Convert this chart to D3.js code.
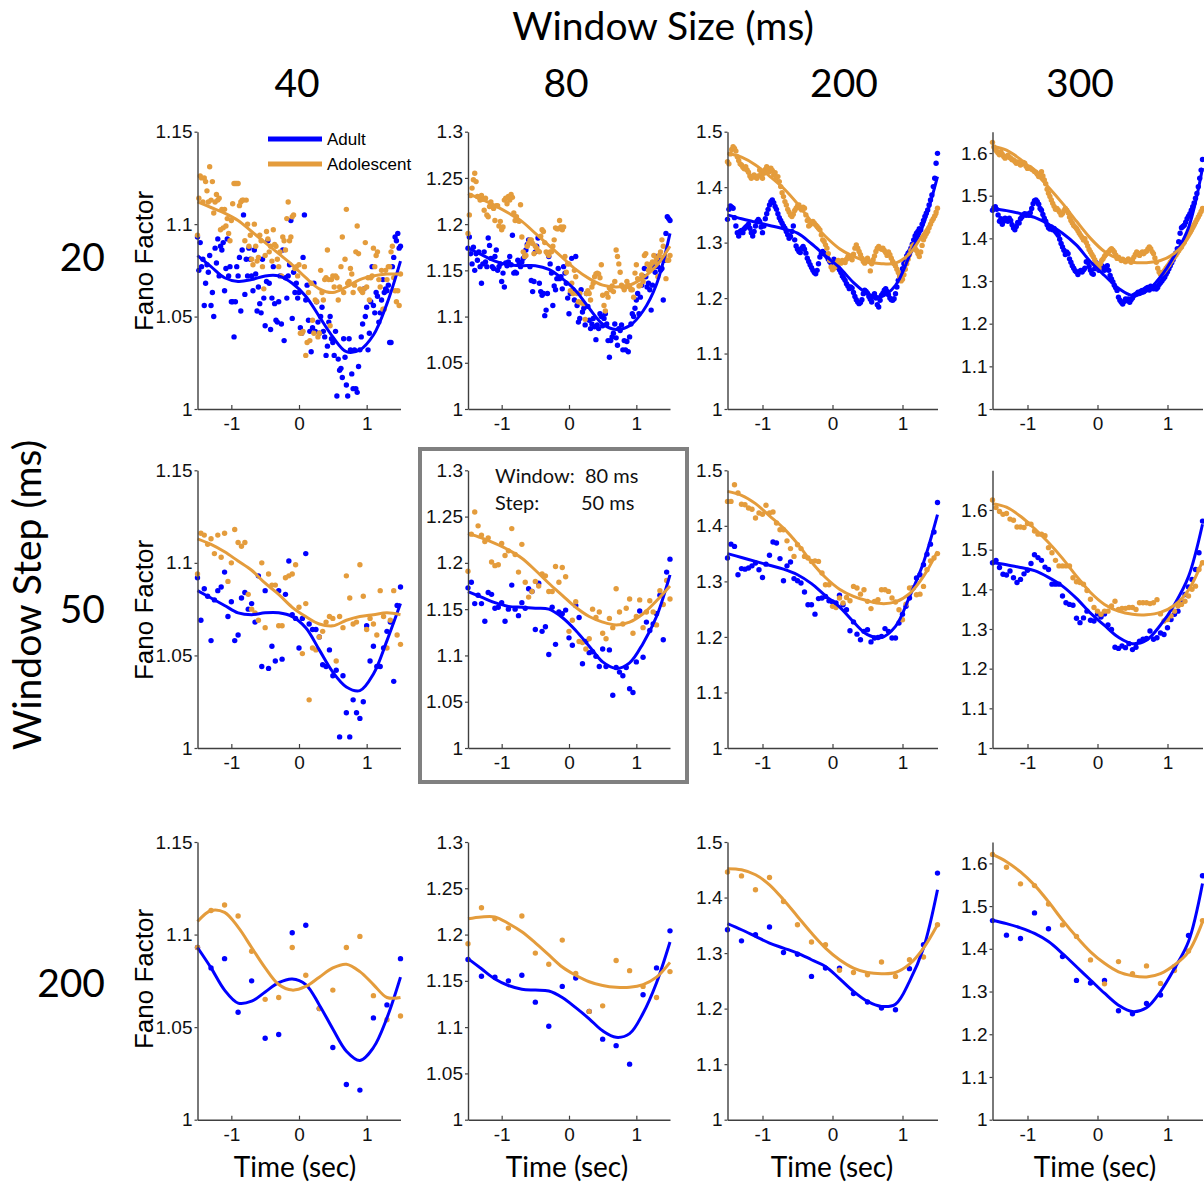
<!DOCTYPE html>
<html>
<head>
<meta charset="utf-8">
<script src="https://cdn.jsdelivr.net/npm/d3@7"></script>
<style>
  body { margin: 0; background: #fff; }
  svg { display: block; }
</style>
</head>
<body>
<svg id="chart" width="1204" height="1186"></svg>
<script>
const windowSizes = [40, 80, 200, 300];
const windowSteps = [20, 50, 200];
const fitTimes = [-1.5, -1.3, -1.1, -0.9, -0.7, -0.5, -0.3, -0.1, 0.1, 0.3, 0.5, 0.7, 0.9, 1.1, 1.3, 1.5];
const xTicks = [-1, 0, 1];
const yTicksByCol = [
  [1, 1.05, 1.1, 1.15],
  [1, 1.05, 1.1, 1.15, 1.2, 1.25, 1.3],
  [1, 1.1, 1.2, 1.3, 1.4, 1.5],
  [1, 1.1, 1.2, 1.3, 1.4, 1.5, 1.6]
];
const yMax = [
  [1.15, 1.3, 1.5, 1.65],
  [1.15, 1.3, 1.5, 1.7],
  [1.15, 1.3, 1.5, 1.65]
];

// ---- step 20 ms ----
const adult_s20_w40 = [1.093,1.075,1.090,1.077,1.081,1.056,1.068,1.078,1.074,1.083,
  1.056,1.063,1.050,1.087,1.079,1.092,1.072,1.088,1.086,1.090,
  1.064,1.076,1.092,1.072,1.077,1.058,1.058,1.039,1.058,1.077,
  1.072,1.082,1.053,1.086,1.105,1.062,1.081,1.072,1.087,1.081,
  1.072,1.064,1.086,1.073,1.053,1.066,1.057,1.052,1.081,1.060,
  1.045,1.069,1.091,1.068,1.043,1.060,1.077,1.057,1.048,1.047,
  1.058,1.072,1.046,1.086,1.037,1.071,1.060,1.072,1.078,1.102,
  1.049,1.074,1.063,1.068,1.060,1.063,1.044,1.041,1.082,1.105,
  1.059,1.067,1.048,1.042,1.031,1.044,1.068,1.042,1.058,1.047,
  1.041,1.050,1.055,1.042,1.039,1.029,1.034,1.047,1.050,1.038,
  1.036,1.029,1.042,1.007,1.027,1.021,1.022,1.017,1.038,1.028,
  1.013,1.007,1.038,1.032,1.019,1.011,1.032,1.011,1.009,1.023,
  1.032,1.039,1.046,1.065,1.050,1.055,1.032,1.041,1.058,1.077,
  1.056,1.052,1.063,1.061,1.047,1.052,1.059,1.070,1.063,1.065,
  1.064,1.067,1.036,1.036,1.077,1.082,1.093,1.091,1.095,1.087,1.088];
const adol_s20_w40 = [1.094,1.114,1.126,1.125,1.112,1.125,1.123,1.118,1.112,1.131,
  1.113,1.123,1.106,1.112,1.116,1.113,1.114,1.097,1.108,1.098,
  1.108,1.099,1.103,1.095,1.091,1.102,1.111,1.122,1.122,1.122,
  1.122,1.110,1.112,1.113,1.113,1.091,1.113,1.100,1.088,1.094,
  1.081,1.078,1.100,1.088,1.080,1.082,1.094,1.091,1.077,1.065,
  1.083,1.096,1.092,1.085,1.088,1.080,1.097,1.089,1.088,1.081,
  1.077,1.085,1.072,1.093,1.091,1.086,1.103,1.112,1.091,1.093,
  1.104,1.105,1.076,1.077,1.072,1.078,1.041,1.041,1.042,1.077,
  1.029,1.036,1.063,1.037,1.068,1.048,1.041,1.059,1.058,1.039,
  1.041,1.075,1.063,1.059,1.070,1.071,1.086,1.070,1.045,1.070,
  1.072,1.066,1.072,1.071,1.059,1.066,1.077,1.093,1.063,1.081,
  1.108,1.068,1.069,1.076,1.073,1.063,1.067,1.085,1.099,1.084,
  1.065,1.064,1.063,1.065,1.090,1.066,1.071,1.059,1.071,1.072,
  1.087,1.077,1.083,1.085,1.070,1.066,1.075,1.054,1.054,1.075,
  1.070,1.077,1.077,1.085,1.088,1.071,1.064,1.058,1.064,1.056,1.073];
const adult_s20_w80 = [1.174,1.186,1.168,1.157,1.175,1.150,1.168,1.161,1.170,1.154,
  1.136,1.157,1.170,1.159,1.154,1.185,1.177,1.163,1.154,1.152,
  1.165,1.172,1.150,1.154,1.157,1.138,1.147,1.132,1.158,1.155,
  1.159,1.165,1.156,1.188,1.147,1.148,1.147,1.161,1.157,1.154,
  1.159,1.163,1.165,1.172,1.178,1.183,1.154,1.139,1.127,1.138,
  1.170,1.176,1.185,1.136,1.127,1.123,1.125,1.101,1.107,1.125,
  1.165,1.157,1.147,1.112,1.133,1.129,1.141,1.152,1.141,1.143,
  1.130,1.154,1.147,1.136,1.120,1.103,1.125,1.163,1.129,1.118,
  1.165,1.112,1.094,1.098,1.129,1.105,1.109,1.091,1.125,1.111,
  1.096,1.087,1.092,1.098,1.089,1.075,1.091,1.087,1.103,1.100,
  1.090,1.098,1.103,1.092,1.074,1.056,1.074,1.078,1.082,1.092,
  1.077,1.069,1.087,1.085,1.091,1.064,1.074,1.064,1.073,1.062,
  1.078,1.092,1.103,1.100,1.109,1.118,1.125,1.103,1.121,1.134,
  1.143,1.152,1.143,1.132,1.136,1.129,1.107,1.134,1.154,1.148,
  1.165,1.154,1.161,1.150,1.152,1.118,1.161,1.190,1.208,1.206,1.204];
const adol_s20_w80 = [1.190,1.210,1.231,1.239,1.248,1.255,1.246,1.230,1.229,1.226,
  1.231,1.227,1.215,1.228,1.210,1.208,1.219,1.224,1.220,1.217,
  1.204,1.220,1.220,1.198,1.203,1.194,1.197,1.226,1.228,1.222,
  1.230,1.226,1.232,1.229,1.212,1.204,1.208,1.204,1.203,1.221,
  1.186,1.170,1.165,1.166,1.176,1.179,1.183,1.183,1.179,1.168,
  1.176,1.174,1.171,1.170,1.187,1.194,1.192,1.180,1.170,1.168,
  1.166,1.170,1.170,1.176,1.183,1.196,1.195,1.195,1.204,1.197,
  1.194,1.197,1.165,1.148,1.157,1.157,1.128,1.136,1.125,1.150,
  1.143,1.125,1.116,1.125,1.115,1.115,1.114,1.097,1.125,1.128,
  1.125,1.118,1.132,1.136,1.143,1.146,1.147,1.146,1.142,1.156,
  1.123,1.112,1.106,1.125,1.121,1.131,1.129,1.133,1.127,1.138,
  1.172,1.165,1.157,1.148,1.134,1.132,1.129,1.132,1.138,1.134,
  1.132,1.129,1.129,1.121,1.147,1.156,1.141,1.133,1.134,1.145,
  1.138,1.166,1.168,1.157,1.150,1.154,1.157,1.159,1.166,1.159,
  1.163,1.143,1.166,1.170,1.183,1.176,1.165,1.141,1.161,1.161,1.166];
const adult_s20_w200 = [1.342,1.360,1.366,1.364,1.362,1.345,1.330,1.318,1.312,1.320,
  1.322,1.318,1.325,1.328,1.330,1.333,1.326,1.318,1.312,1.320,
  1.330,1.338,1.342,1.338,1.328,1.318,1.330,1.343,1.352,1.360,
  1.368,1.374,1.377,1.372,1.365,1.360,1.352,1.345,1.340,1.335,
  1.330,1.326,1.320,1.314,1.308,1.311,1.320,1.330,1.305,1.294,
  1.288,1.284,1.282,1.290,1.293,1.288,1.281,1.272,1.266,1.260,
  1.255,1.250,1.246,1.244,1.250,1.262,1.274,1.280,1.284,1.281,
  1.278,1.275,1.270,1.266,1.263,1.266,1.270,1.265,1.260,1.255,
  1.251,1.246,1.240,1.236,1.232,1.226,1.222,1.217,1.220,1.218,
  1.210,1.203,1.197,1.193,1.190,1.192,1.197,1.208,1.214,1.212,
  1.209,1.203,1.198,1.193,1.202,1.208,1.200,1.188,1.184,1.196,
  1.205,1.209,1.214,1.217,1.212,1.206,1.200,1.197,1.196,1.199,
  1.208,1.220,1.232,1.238,1.244,1.253,1.262,1.268,1.276,1.281,
  1.284,1.290,1.297,1.305,1.312,1.317,1.320,1.325,1.323,1.333,
  1.340,1.347,1.353,1.359,1.368,1.377,1.386,1.401,1.416,1.443,1.461];
const adol_s20_w200 = [1.446,1.442,1.460,1.468,1.473,1.470,1.465,1.455,1.448,1.442,
  1.440,1.436,1.433,1.437,1.431,1.427,1.420,1.416,1.419,1.422,
  1.418,1.416,1.420,1.431,1.424,1.416,1.425,1.432,1.437,1.430,
  1.428,1.434,1.430,1.422,1.426,1.417,1.419,1.410,1.401,1.390,
  1.383,1.374,1.368,1.360,1.355,1.350,1.347,1.351,1.358,1.362,
  1.366,1.368,1.362,1.359,1.364,1.362,1.350,1.340,1.330,1.332,
  1.335,1.338,1.335,1.332,1.329,1.326,1.323,1.314,1.305,1.302,
  1.296,1.290,1.280,1.268,1.256,1.251,1.254,1.257,1.263,1.268,
  1.266,1.263,1.268,1.266,1.264,1.270,1.275,1.275,1.272,1.269,
  1.279,1.290,1.296,1.290,1.284,1.278,1.272,1.266,1.263,1.269,
  1.272,1.266,1.249,1.262,1.269,1.276,1.284,1.290,1.293,1.290,
  1.288,1.290,1.286,1.282,1.277,1.283,1.278,1.272,1.266,1.262,
  1.258,1.252,1.246,1.238,1.231,1.234,1.242,1.252,1.262,1.270,
  1.278,1.286,1.293,1.296,1.290,1.286,1.280,1.275,1.283,1.295,
  1.305,1.311,1.316,1.320,1.327,1.333,1.339,1.343,1.348,1.355,1.362];
const adult_s20_w300 = [1.466,1.472,1.474,1.468,1.455,1.440,1.446,1.433,1.440,1.447,
  1.443,1.440,1.447,1.442,1.432,1.424,1.420,1.428,1.437,1.436,
  1.446,1.450,1.455,1.458,1.454,1.457,1.454,1.460,1.470,1.481,
  1.488,1.490,1.486,1.480,1.470,1.466,1.456,1.447,1.440,1.432,
  1.425,1.422,1.427,1.420,1.423,1.416,1.412,1.407,1.398,1.388,
  1.380,1.372,1.362,1.368,1.364,1.352,1.344,1.336,1.330,1.324,
  1.321,1.315,1.322,1.325,1.321,1.326,1.330,1.345,1.344,1.334,
  1.325,1.318,1.316,1.329,1.343,1.336,1.325,1.333,1.336,1.332,
  1.325,1.333,1.336,1.325,1.313,1.305,1.298,1.290,1.284,1.278,
  1.262,1.255,1.250,1.246,1.252,1.258,1.254,1.258,1.250,1.256,
  1.260,1.266,1.268,1.270,1.274,1.272,1.276,1.278,1.275,1.281,
  1.283,1.285,1.279,1.288,1.285,1.282,1.288,1.281,1.285,1.292,
  1.296,1.300,1.305,1.309,1.316,1.322,1.329,1.336,1.343,1.350,
  1.358,1.366,1.376,1.392,1.412,1.425,1.428,1.431,1.438,1.446,
  1.452,1.458,1.466,1.474,1.483,1.494,1.505,1.521,1.541,1.560,1.585];
const adol_s20_w300 = [1.625,1.614,1.608,1.604,1.600,1.596,1.603,1.597,1.592,1.588,
  1.592,1.595,1.590,1.588,1.584,1.584,1.580,1.576,1.579,1.576,
  1.572,1.574,1.578,1.576,1.569,1.564,1.567,1.565,1.562,1.560,
  1.557,1.555,1.550,1.545,1.552,1.556,1.546,1.537,1.528,1.515,
  1.506,1.498,1.490,1.482,1.475,1.468,1.470,1.466,1.461,1.455,
  1.458,1.465,1.470,1.466,1.460,1.450,1.442,1.436,1.430,1.427,
  1.423,1.418,1.412,1.407,1.402,1.396,1.399,1.390,1.382,1.374,
  1.368,1.362,1.357,1.350,1.342,1.334,1.330,1.340,1.348,1.352,
  1.358,1.362,1.366,1.369,1.373,1.376,1.372,1.368,1.361,1.353,
  1.356,1.352,1.348,1.351,1.348,1.345,1.348,1.352,1.347,1.344,
  1.350,1.356,1.362,1.368,1.364,1.360,1.365,1.368,1.364,1.368,
  1.370,1.375,1.380,1.376,1.369,1.364,1.354,1.344,1.330,1.321,
  1.316,1.318,1.321,1.325,1.330,1.334,1.338,1.344,1.348,1.354,
  1.357,1.361,1.366,1.371,1.376,1.380,1.386,1.391,1.398,1.405,
  1.410,1.415,1.420,1.426,1.432,1.438,1.444,1.450,1.456,1.463,1.470];

// ---- step 50 ms ----
const adult_s50_w40 = [1.092,1.069,1.086,1.082,1.058,1.080,1.085,1.087,1.095,1.071,
  1.079,1.058,1.061,1.081,1.084,1.075,1.078,1.068,1.093,1.044,
  1.085,1.043,1.055,1.047,1.085,1.048,1.083,1.101,1.072,1.070,
  1.054,1.070,1.105,1.067,1.064,1.064,1.060,1.045,1.044,1.053,
  1.039,1.042,1.006,1.039,1.019,1.006,1.026,1.019,1.016,1.025,
  1.066,1.047,1.055,1.044,1.044,1.054,1.063,1.068,1.036,1.077,1.087];
const adol_s50_w40 = [1.094,1.116,1.115,1.110,1.113,1.105,1.115,1.103,1.116,1.090,
  1.100,1.118,1.111,1.109,1.111,1.083,1.075,1.073,1.069,1.100,
  1.065,1.094,1.088,1.088,1.066,1.066,1.092,1.093,1.094,1.099,
  1.076,1.051,1.078,1.026,1.054,1.053,1.060,1.063,1.068,1.071,
  1.070,1.047,1.071,1.065,1.093,1.081,1.067,1.068,1.099,1.082,
  1.064,1.070,1.067,1.061,1.085,1.071,1.054,1.069,1.085,1.061,1.056];
const adult_s50_w80 = [1.173,1.179,1.156,1.165,1.156,1.137,1.168,1.166,1.151,1.152,
  1.157,1.137,1.150,1.176,1.150,1.143,1.157,1.151,1.172,1.169,
  1.128,1.178,1.126,1.131,1.101,1.152,1.112,1.147,1.145,1.149,
  1.119,1.111,1.154,1.141,1.091,1.115,1.103,1.104,1.099,1.088,
  1.107,1.088,1.106,1.057,1.087,1.082,1.078,1.087,1.064,1.060,
  1.093,1.148,1.098,1.136,1.127,1.134,1.145,1.165,1.117,1.190,1.204];
const adol_s50_w80 = [1.191,1.231,1.255,1.240,1.230,1.223,1.227,1.201,1.197,1.198,
  1.221,1.208,1.213,1.237,1.209,1.190,1.220,1.179,1.163,1.169,
  1.180,1.175,1.188,1.186,1.169,1.169,1.196,1.179,1.195,1.185,
  1.126,1.138,1.158,1.115,1.114,1.107,1.118,1.150,1.141,1.147,
  1.124,1.118,1.140,1.130,1.172,1.147,1.134,1.151,1.161,1.124,
  1.142,1.160,1.130,1.147,1.159,1.147,1.133,1.170,1.155,1.181,1.161];
const adult_s50_w200 = [1.342,1.367,1.363,1.312,1.323,1.322,1.324,1.328,1.333,1.321,
  1.307,1.331,1.347,1.371,1.369,1.341,1.301,1.328,1.335,1.305,
  1.301,1.297,1.281,1.258,1.258,1.241,1.269,1.270,1.273,1.265,
  1.263,1.261,1.275,1.258,1.249,1.211,1.227,1.205,1.195,1.210,
  1.213,1.191,1.198,1.199,1.201,1.215,1.210,1.198,1.198,1.225,
  1.241,1.255,1.270,1.288,1.306,1.312,1.330,1.349,1.367,1.389,1.442];
const adol_s50_w200 = [1.444,1.444,1.474,1.459,1.439,1.438,1.432,1.430,1.414,1.423,
  1.421,1.437,1.423,1.425,1.405,1.393,1.393,1.373,1.359,1.345,
  1.366,1.359,1.345,1.342,1.336,1.337,1.336,1.315,1.294,1.294,
  1.255,1.253,1.270,1.261,1.271,1.265,1.291,1.288,1.277,1.285,
  1.264,1.251,1.264,1.267,1.285,1.285,1.282,1.270,1.263,1.249,
  1.231,1.259,1.288,1.288,1.276,1.277,1.291,1.321,1.337,1.342,1.350];
const adult_s50_w300 = [1.467,1.473,1.455,1.438,1.436,1.446,1.429,1.417,1.425,1.439,
  1.448,1.465,1.487,1.480,1.473,1.456,1.450,1.413,1.413,1.413,
  1.383,1.366,1.362,1.360,1.327,1.316,1.328,1.345,1.322,1.320,
  1.338,1.330,1.338,1.310,1.299,1.254,1.251,1.257,1.253,1.263,
  1.248,1.254,1.269,1.274,1.276,1.295,1.274,1.278,1.290,1.286,
  1.303,1.324,1.337,1.345,1.366,1.387,1.406,1.425,1.450,1.492,1.572];
const adol_s50_w300 = [1.625,1.606,1.596,1.589,1.591,1.577,1.574,1.557,1.557,1.556,
  1.566,1.564,1.547,1.539,1.539,1.535,1.505,1.492,1.473,1.459,
  1.459,1.459,1.459,1.429,1.419,1.417,1.413,1.397,1.375,1.354,
  1.345,1.337,1.345,1.345,1.358,1.370,1.349,1.352,1.352,1.354,
  1.354,1.349,1.366,1.366,1.366,1.364,1.366,1.374,1.338,1.320,
  1.324,1.333,1.345,1.358,1.362,1.370,1.383,1.400,1.408,1.450,1.467];

// ---- step 200 ms ----
const adult_s200_w40 = [1.093,1.082,1.087,1.058,1.075,1.044,1.046,1.101,1.105,1.060,1.039,1.019,1.016,1.055,1.062,1.087];
const adol_s200_w40 = [1.093,1.113,1.116,1.110,1.091,1.065,1.066,1.093,1.078,1.060,1.070,1.093,1.099,1.067,1.054,1.056];
const adult_s200_w80 = [1.173,1.155,1.154,1.150,1.156,1.127,1.101,1.144,1.153,1.117,1.087,1.080,1.060,1.135,1.164,1.204];
const adol_s200_w80 = [1.190,1.229,1.217,1.207,1.220,1.180,1.168,1.194,1.158,1.117,1.123,1.172,1.161,1.144,1.132,1.160];
const adult_s200_w200 = [1.342,1.322,1.333,1.347,1.301,1.298,1.258,1.273,1.273,1.227,1.212,1.201,1.198,1.272,1.315,1.444];
const adol_s200_w200 = [1.446,1.439,1.414,1.436,1.393,1.351,1.320,1.315,1.269,1.265,1.261,1.284,1.258,1.288,1.293,1.351];
const adult_s200_w300 = [1.466,1.432,1.424,1.484,1.447,1.382,1.326,1.320,1.326,1.255,1.248,1.272,1.292,1.358,1.431,1.571];
const adol_s200_w300 = [1.621,1.591,1.552,1.548,1.505,1.456,1.429,1.374,1.318,1.370,1.342,1.360,1.319,1.349,1.395,1.466];

// ---- smoothed fits, sampled at fitTimes ----
const fitAdult_s20_w40 = [1.083,1.077,1.071,1.069,1.070,1.072,1.072,1.068,1.061,1.050,1.039,1.031,1.032,1.040,1.057,1.080];
const fitAdol_s20_w40 = [1.112,1.109,1.106,1.102,1.096,1.090,1.084,1.078,1.071,1.065,1.063,1.066,1.070,1.072,1.073,1.073];
const fitAdult_s20_w80 = [1.174,1.167,1.160,1.156,1.155,1.155,1.151,1.141,1.128,1.109,1.092,1.086,1.090,1.106,1.135,1.190];
const fitAdol_s20_w80 = [1.233,1.227,1.220,1.212,1.203,1.190,1.177,1.164,1.151,1.141,1.134,1.132,1.134,1.142,1.155,1.176];
const fitAdult_s20_w200 = [1.350,1.343,1.337,1.331,1.325,1.317,1.298,1.276,1.255,1.228,1.208,1.203,1.223,1.276,1.333,1.419];
const fitAdol_s20_w200 = [1.461,1.454,1.440,1.420,1.398,1.370,1.338,1.311,1.289,1.275,1.266,1.262,1.263,1.280,1.316,1.353];
const fitAdult_s20_w300 = [1.470,1.465,1.458,1.449,1.433,1.412,1.384,1.345,1.313,1.283,1.266,1.276,1.310,1.360,1.425,1.565];
const fitAdol_s20_w300 = [1.616,1.607,1.585,1.555,1.520,1.482,1.440,1.400,1.369,1.352,1.344,1.343,1.348,1.365,1.402,1.470];

const fitAdult_s50_w40 = [1.085,1.081,1.077,1.073,1.072,1.073,1.073,1.071,1.065,1.053,1.041,1.033,1.031,1.040,1.058,1.078];
const fitAdol_s50_w40 = [1.113,1.110,1.106,1.101,1.096,1.089,1.083,1.076,1.071,1.067,1.066,1.069,1.071,1.072,1.073,1.072];
const fitAdult_s50_w80 = [1.169,1.163,1.157,1.153,1.152,1.151,1.150,1.141,1.127,1.110,1.093,1.086,1.092,1.113,1.142,1.187];
const fitAdol_s50_w80 = [1.232,1.227,1.221,1.214,1.205,1.192,1.178,1.165,1.152,1.142,1.136,1.133,1.136,1.145,1.159,1.175];
const fitAdult_s50_w200 = [1.350,1.343,1.336,1.329,1.322,1.312,1.296,1.274,1.254,1.227,1.204,1.199,1.219,1.272,1.334,1.420];
const fitAdol_s50_w200 = [1.462,1.455,1.440,1.418,1.396,1.368,1.335,1.307,1.286,1.273,1.265,1.260,1.263,1.278,1.309,1.354];
const fitAdult_s50_w300 = [1.467,1.462,1.455,1.447,1.430,1.408,1.377,1.340,1.309,1.279,1.263,1.272,1.310,1.362,1.432,1.564];
const fitAdol_s50_w300 = [1.616,1.607,1.584,1.553,1.518,1.478,1.433,1.392,1.362,1.345,1.337,1.336,1.342,1.360,1.398,1.471];

const fitAdult_s200_w40 = [1.093,1.082,1.070,1.063,1.064,1.069,1.074,1.076,1.073,1.062,1.049,1.037,1.032,1.039,1.055,1.077];
const fitAdol_s200_w40 = [1.107,1.113,1.112,1.104,1.093,1.082,1.073,1.070,1.072,1.077,1.082,1.084,1.080,1.073,1.066,1.066];
const fitAdult_s200_w80 = [1.174,1.163,1.152,1.145,1.141,1.140,1.139,1.132,1.121,1.109,1.096,1.089,1.093,1.115,1.148,1.192];
const fitAdol_s200_w80 = [1.217,1.219,1.219,1.212,1.203,1.191,1.178,1.165,1.156,1.149,1.145,1.143,1.143,1.146,1.154,1.170];
const fitAdult_s200_w200 = [1.353,1.342,1.330,1.318,1.309,1.300,1.288,1.276,1.254,1.231,1.213,1.204,1.208,1.249,1.309,1.414];
const fitAdol_s200_w200 = [1.452,1.450,1.441,1.423,1.396,1.366,1.336,1.309,1.288,1.273,1.265,1.263,1.265,1.280,1.309,1.351];
const fitAdult_s200_w300 = [1.467,1.459,1.449,1.436,1.417,1.389,1.358,1.327,1.296,1.268,1.253,1.262,1.300,1.354,1.417,1.553];
const fitAdol_s200_w300 = [1.621,1.604,1.580,1.549,1.510,1.467,1.428,1.393,1.366,1.346,1.337,1.334,1.342,1.362,1.393,1.463];

const panels = [
  [
    { adult: adult_s20_w40, adol: adol_s20_w40, fitAdult: fitAdult_s20_w40, fitAdol: fitAdol_s20_w40 },
    { adult: adult_s20_w80, adol: adol_s20_w80, fitAdult: fitAdult_s20_w80, fitAdol: fitAdol_s20_w80 },
    { adult: adult_s20_w200, adol: adol_s20_w200, fitAdult: fitAdult_s20_w200, fitAdol: fitAdol_s20_w200 },
    { adult: adult_s20_w300, adol: adol_s20_w300, fitAdult: fitAdult_s20_w300, fitAdol: fitAdol_s20_w300 }
  ],
  [
    { adult: adult_s50_w40, adol: adol_s50_w40, fitAdult: fitAdult_s50_w40, fitAdol: fitAdol_s50_w40 },
    { adult: adult_s50_w80, adol: adol_s50_w80, fitAdult: fitAdult_s50_w80, fitAdol: fitAdol_s50_w80 },
    { adult: adult_s50_w200, adol: adol_s50_w200, fitAdult: fitAdult_s50_w200, fitAdol: fitAdol_s50_w200 },
    { adult: adult_s50_w300, adol: adol_s50_w300, fitAdult: fitAdult_s50_w300, fitAdol: fitAdol_s50_w300 }
  ],
  [
    { adult: adult_s200_w40, adol: adol_s200_w40, fitAdult: fitAdult_s200_w40, fitAdol: fitAdol_s200_w40 },
    { adult: adult_s200_w80, adol: adol_s200_w80, fitAdult: fitAdult_s200_w80, fitAdol: fitAdol_s200_w80 },
    { adult: adult_s200_w200, adol: adol_s200_w200, fitAdult: fitAdult_s200_w200, fitAdol: fitAdol_s200_w200 },
    { adult: adult_s200_w300, adol: adol_s200_w300, fitAdult: fitAdult_s200_w300, fitAdol: fitAdol_s200_w300 }
  ]
];

const BLUE = "#0000ff";
const ORANGE = "#e49c3c";
const AXIS = "#404040";
const SANS = "'Liberation Sans', Arial, sans-serif";
const TITLE_FONT = "Lato, 'Open Sans', sans-serif";

const colX = [[197.5, 400.5], [468, 670], [727.5, 937.5], [992.5, 1202.5]];
const rowY = [[131.7, 409], [470.3, 748], [842, 1119.7]];

const svg = d3.select("#chart");
svg.append("rect").attr("width", 1204).attr("height", 1186).attr("fill", "#fff");

// highlighted panel frame (80 ms window, 50 ms step)
svg.append("rect")
  .attr("x", 420).attr("y", 449).attr("width", 267).attr("height", 333)
  .attr("fill", "none").attr("stroke", "#808080").attr("stroke-width", 4);

const tickFmt = d => String(+d.toFixed(2));

windowSteps.forEach((step, r) => {
  windowSizes.forEach((win, c) => {
    const p = panels[r][c];
    const x = d3.scaleLinear().domain([-1.5, 1.5]).range(colX[c]);
    const y = d3.scaleLinear().domain([1, yMax[r][c]]).range([rowY[r][1], rowY[r][0]]);
    const times = p.adult.map((_, i) => -1.5 + i * step / 1000);
    const g = svg.append("g");

    const line = d3.line()
      .x((d, i) => x(fitTimes[i]))
      .y(d => y(d))
      .curve(d3.curveCatmullRom.alpha(0.5));

    const drawDots = (vals, color) => {
      g.append("g").selectAll("circle")
        .data(vals)
        .join("circle")
        .attr("cx", (d, i) => x(times[i]))
        .attr("cy", d => y(d))
        .attr("r", 2.7)
        .attr("fill", color);
    };

    drawDots(p.adult, BLUE);
    drawDots(p.adol, ORANGE);

    g.append("path").datum(p.fitAdult)
      .attr("d", line).attr("fill", "none")
      .attr("stroke", BLUE).attr("stroke-width", 3);
    g.append("path").datum(p.fitAdol)
      .attr("d", line).attr("fill", "none")
      .attr("stroke", ORANGE).attr("stroke-width", 3);

    const yAxis = g.append("g")
      .attr("transform", `translate(${colX[c][0]},0)`)
      .call(d3.axisLeft(y).tickValues(yTicksByCol[c]).tickFormat(tickFmt)
        .tickSizeInner(3).tickSizeOuter(0).tickPadding(2));
    const xAxis = g.append("g")
      .attr("transform", `translate(0,${rowY[r][1]})`)
      .call(d3.axisBottom(x).tickValues(xTicks).tickFormat(d => String(d))
        .tickSizeInner(-4).tickSizeOuter(0).tickPadding(8));

    [yAxis, xAxis].forEach(a => {
      a.attr("font-size", 19).attr("font-family", SANS);
      a.select(".domain").attr("stroke", AXIS).attr("stroke-width", 1.4);
      a.selectAll(".tick line").attr("stroke", AXIS).attr("stroke-width", 1.2);
      a.selectAll(".tick text").attr("fill", "#111");
    });

    if (c === 0) {
      const fanoY = [261, 610, 979][r];
      svg.append("text")
        .attr("transform", `translate(153,${fanoY}) rotate(-90)`)
        .attr("text-anchor", "middle")
        .attr("font-family", SANS).attr("font-size", 26)
        .text("Fano Factor");
    }
    if (r === 2) {
      svg.append("text")
        .attr("x", [295, 567, 832, 1095][c]).attr("y", 1177)
        .attr("text-anchor", "middle")
        .attr("font-family", TITLE_FONT).attr("font-size", 28)
        .text("Time (sec)");
    }
  });
});

// legend (top-left panel)
const legend = svg.append("g");
[["Adult", BLUE, 139], ["Adolescent", ORANGE, 164]].forEach(([label, color, ly]) => {
  legend.append("line")
    .attr("x1", 268).attr("x2", 322).attr("y1", ly).attr("y2", ly)
    .attr("stroke", color).attr("stroke-width", 5);
  legend.append("text")
    .attr("x", 327).attr("y", ly + 6)
    .attr("font-family", SANS).attr("font-size", 17)
    .text(label);
});

// titles
svg.append("text")
  .attr("x", 663).attr("y", 40).attr("text-anchor", "middle")
  .attr("font-family", TITLE_FONT).attr("font-size", 39)
  .text("Window Size (ms)");

windowSizes.forEach((w, c) => {
  svg.append("text")
    .attr("x", [297, 566, 844, 1080][c]).attr("y", 97)
    .attr("text-anchor", "middle")
    .attr("font-family", TITLE_FONT).attr("font-size", 39)
    .text(w);
});

windowSteps.forEach((s, r) => {
  svg.append("text")
    .attr("x", 105).attr("y", [271, 623, 997][r])
    .attr("text-anchor", "end")
    .attr("font-family", TITLE_FONT).attr("font-size", 39)
    .text(s);
});

svg.append("text")
  .attr("transform", "translate(41,595) rotate(-90)")
  .attr("text-anchor", "middle")
  .attr("font-family", TITLE_FONT).attr("font-size", 39)
  .text("Window Step (ms)");

// annotation inside the framed panel
const note = svg.append("g")
  .attr("font-family", TITLE_FONT).attr("font-size", 20).attr("fill", "#111");
note.append("text").attr("x", 495).attr("y", 483).text("Window:");
note.append("text").attr("x", 585).attr("y", 483).text("80 ms");
note.append("text").attr("x", 495).attr("y", 510).text("Step:");
note.append("text").attr("x", 581).attr("y", 510).text("50 ms");
</script>
</body>
</html>
